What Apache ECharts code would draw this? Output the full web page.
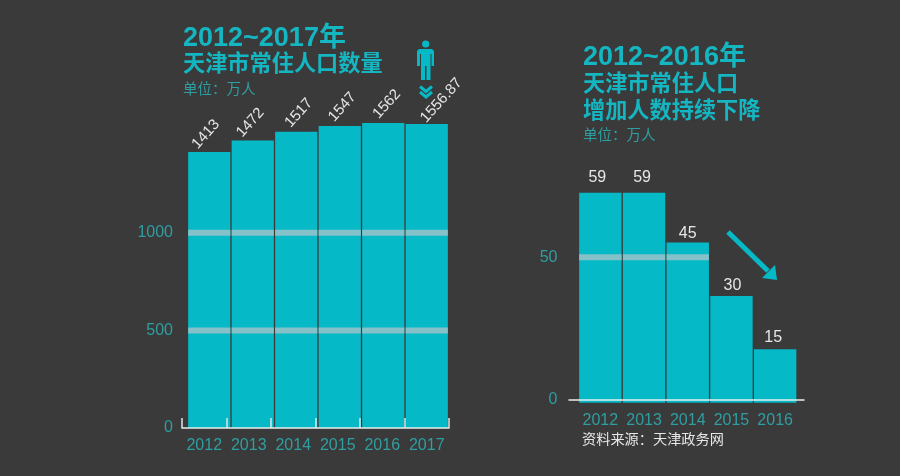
<!DOCTYPE html>
<html>
<head>
<meta charset="utf-8">
<style>
  html, body { margin: 0; padding: 0; background: #3a3a3b; }
  #chart { width: 900px; height: 476px; }
</style>
<script src="https://cdn.jsdelivr.net/npm/echarts@6/dist/echarts.min.js"></script>
</head>
<body>
<div id="chart"></div>
<script>
const popYears = ['2012', '2013', '2014', '2015', '2016', '2017'];
const popValues = [1413, 1472, 1517, 1547, 1562, 1556.87];
const popBands = [500, 1000];

const incYears = ['2012', '2013', '2014', '2015', '2016'];
const incValues = [59, 59, 45, 30, 15];
const incBandYears = ['2012', '2013', '2014'];
const incBandTick = 50;

const CYAN = '#06b9c7';
const TEAL = '#2f9ea0';
const BAND = '#84c1c8';
const WHITE = '#e6e6e6';
const FONT = '"Liberation Sans", "Noto Sans CJK SC", sans-serif';

// the value labels sit a little unevenly in the original (screen px)
const popLabelNudge = [[-14.5, -1.5], [-13.5, -1.5], [-8.5, -2.5], [-8.5, -2.5], [-7.5, -2.5], [-3.5, 0.5]];
const incLabelNudge = [[-3, -1], [-2, -1], [0, 5], [1, 4], [-2, 2]];
const POP_LABEL_ROTATE = 48;

// label offset is applied in the rotated frame of the label
function toLabelFrame(nudge, deg) {
  const a = deg * Math.PI / 180;
  return [nudge[0] * Math.cos(a) - nudge[1] * Math.sin(a), nudge[0] * Math.sin(a) + nudge[1] * Math.cos(a)];
}

// light stripe across a bar, one per [category, value]
function bandItem(params, api) {
  const p = api.coord([api.value(0), api.value(1)]);
  const w = api.size([1, 0])[0];
  const barW = w * 0.97;
  return {
    type: 'rect',
    shape: { x: p[0] - barW / 2, y: p[1] - 3, width: barW, height: 6 },
    style: { fill: BAND }
  };
}

function text(x, y, str, size, weight, color) {
  return {
    type: 'text', x, y, z: 20,
    style: { text: str, fill: color, font: `${weight} ${size}px ${FONT}`, verticalAlign: 'middle' }
  };
}

const popBandData = [];
popBands.forEach(v => popYears.forEach(y => popBandData.push([y, v])));

const option = {
  backgroundColor: '#3a3a3b',
  animation: false,
  grid: [
    { left: 187.5, width: 261, top: 115.6, height: 312.4 },
    { left: 182, width: 267, top: 232.7, height: 195.3 },
    { left: 578.5, width: 218.5, top: 189.1, height: 213.6 },
    { left: 578.5, width: 218.5, top: 257.3, height: 142.7 },
    { left: 569, width: 235, top: 257.3, height: 142.7 }
  ],
  xAxis: [
    { type: 'category', gridIndex: 0, data: popYears, show: false },
    {
      type: 'category', gridIndex: 1, data: popYears, z: 5,
      axisLine: { lineStyle: { color: '#e8eeee', width: 1.5 } },
      axisTick: { show: true, inside: true, length: 10, interval: 0, lineStyle: { color: '#dbe8e8', width: 1.5 } },
      axisLabel: { color: TEAL, fontSize: 16, fontFamily: FONT, margin: 10, interval: 0 }
    },
    {
      type: 'category', gridIndex: 2, data: incYears,
      axisLine: { show: false }, axisTick: { show: false },
      axisLabel: { color: TEAL, fontSize: 16, fontFamily: FONT, margin: 10, interval: 0 }
    },
    { type: 'category', gridIndex: 3, data: incYears, show: false },
    {
      type: 'category', gridIndex: 4, data: incYears, z: 5,
      axisLine: { lineStyle: { color: '#e8eeee', width: 1.5 } },
      axisTick: { show: false }, axisLabel: { show: false }
    }
  ],
  yAxis: [
    { type: 'value', gridIndex: 0, min: 0, max: 1600, show: false, splitLine: { show: false } },
    {
      type: 'value', gridIndex: 1, min: 0, max: 1000, interval: 500,
      axisLine: { show: false }, axisTick: { show: false }, splitLine: { show: false },
      axisLabel: {
        color: TEAL, fontSize: 16, fontFamily: FONT, margin: 9, padding: [0, 0, 5, 0],
        formatter: v => String(v)
      }
    },
    { type: 'value', gridIndex: 2, min: 0, max: 60, show: false, splitLine: { show: false } },
    {
      type: 'value', gridIndex: 3, min: 0, max: 50, interval: 50,
      axisLine: { show: false }, axisTick: { show: false }, splitLine: { show: false },
      axisLabel: { color: TEAL, fontSize: 16, fontFamily: FONT, margin: 21, padding: [0, 0, 3, 0] }
    },
    { type: 'value', gridIndex: 4, min: 0, max: 50, show: false, splitLine: { show: false } }
  ],
  series: [
    {
      type: 'bar', xAxisIndex: 0, yAxisIndex: 0,
      data: popValues.map((v, i) => ({ value: v, label: { offset: toLabelFrame(popLabelNudge[i], POP_LABEL_ROTATE) } })),
      barCategoryGap: '3%', itemStyle: { color: CYAN }, z: 2,
      label: {
        show: true, position: 'top', distance: 4, rotate: POP_LABEL_ROTATE, align: 'left', verticalAlign: 'middle',
        color: WHITE, fontSize: 15, fontFamily: FONT
      }
    },
    {
      type: 'custom', xAxisIndex: 0, yAxisIndex: 0, data: popBandData, z: 3,
      renderItem: bandItem, encode: { x: 0, y: 1 }
    },
    {
      type: 'bar', xAxisIndex: 2, yAxisIndex: 2,
      data: incValues.map((v, i) => ({ value: v, label: { offset: incLabelNudge[i] } })),
      barCategoryGap: '3%', itemStyle: { color: CYAN }, z: 2,
      label: { show: true, position: 'top', distance: 6, color: WHITE, fontSize: 16, fontFamily: FONT }
    },
    {
      type: 'custom', xAxisIndex: 3, yAxisIndex: 3, z: 3,
      data: incBandYears.map(y => [y, incBandTick]),
      renderItem: bandItem, encode: { x: 0, y: 1 }
    }
  ],
  graphic: [
    text(183, 39, '2012~2017年', 27, 'bold', '#14b6c2'),
    text(183, 65, '天津市常住人口数量', 22.2, 'bold', '#14b6c2'),
    text(183, 90, '单位：万人', 14.5, 'normal', TEAL),
    text(583, 58, '2012~2016年', 27, 'bold', '#14b6c2'),
    text(583, 85, '天津市常住人口', 22.2, 'bold', '#14b6c2'),
    text(583, 112, '增加人数持续下降', 22.2, 'bold', '#14b6c2'),
    text(583, 136, '单位：万人', 14.5, 'normal', TEAL),
    text(582, 440, '资料来源：天津政务网', 14.2, 'normal', WHITE),
    // person icon
    { type: 'circle', z: 20, shape: { cx: 425.7, cy: 44, r: 3.6 }, style: { fill: CYAN } },
    {
      type: 'polygon', z: 20,
      shape: { points: [[417, 51], [419, 49], [432, 49], [434, 51], [434, 66], [431.5, 66], [431.5, 54], [430.5, 54],
        [430.5, 80], [426.5, 80], [426.5, 66], [425, 66], [425, 80], [421, 80], [421, 54], [420, 54], [420, 66], [417, 66]] },
      style: { fill: CYAN }
    },
    { type: 'polyline', z: 20, shape: { points: [[420, 86.5], [426, 91.5], [432, 86.5]] }, style: { stroke: CYAN, lineWidth: 3, fill: 'none' } },
    { type: 'polyline', z: 20, shape: { points: [[420, 92], [426, 97], [432, 92]] }, style: { stroke: CYAN, lineWidth: 3, fill: 'none' } },
    // falling arrow
    { type: 'line', z: 20, shape: { x1: 728, y1: 232, x2: 768, y2: 271 }, style: { stroke: CYAN, lineWidth: 5 } },
    { type: 'polygon', z: 20, shape: { points: [[777, 280], [762, 278], [775, 265]] }, style: { fill: CYAN } }
  ]
};

const chart = echarts.init(document.getElementById('chart'));
chart.setOption(option);
</script>
</body>
</html>
